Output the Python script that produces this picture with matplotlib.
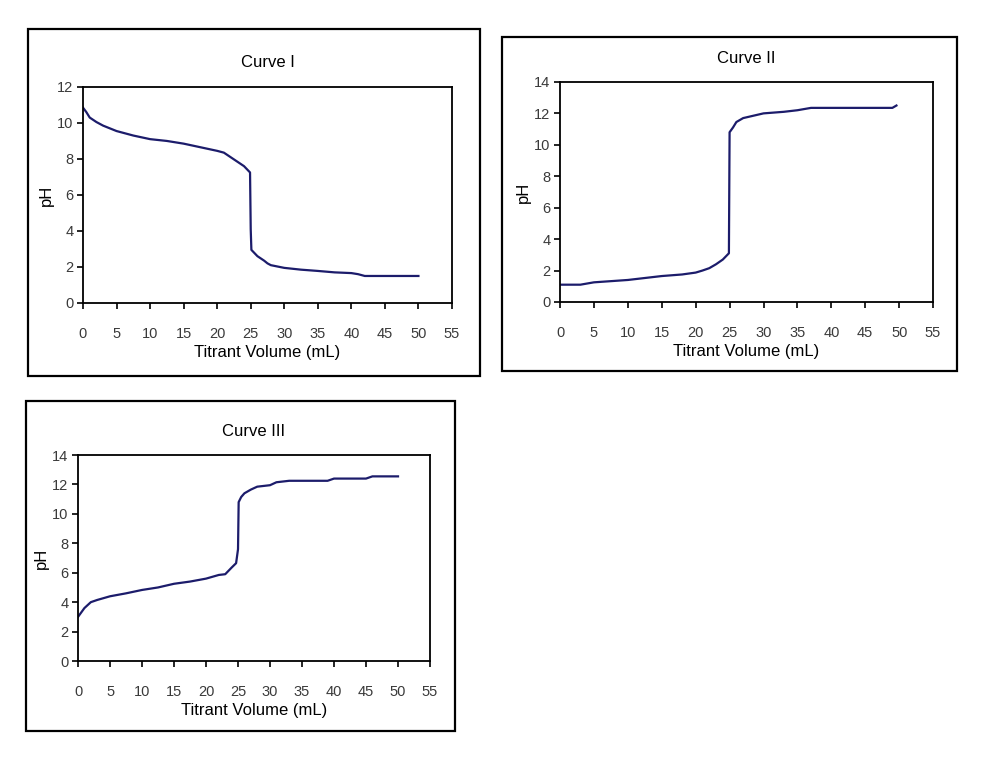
import matplotlib.pyplot as plt
from matplotlib.patches import Rectangle

plt.rcParams['font.family'] = ['Liberation Sans Narrow', 'Liberation Sans', 'DejaVu Sans']

# Curve I: pH falling through the equivalence point
x1 = [0, 0.5, 1, 2, 3, 5, 7.5, 10, 12.5, 15, 17.5, 20, 21, 22, 23, 24, 24.9,
      25, 25.1, 26, 27, 27.5, 28, 30, 32.5, 35, 37.5, 40, 41, 42, 45, 50]
y1 = [10.85, 10.6, 10.3, 10.05, 9.85, 9.55, 9.3, 9.1, 9.0, 8.85, 8.65, 8.45, 8.35,
      8.1, 7.85, 7.6, 7.25, 4.1, 2.95, 2.6, 2.35, 2.2, 2.1, 1.95, 1.85, 1.78, 1.7,
      1.66, 1.6, 1.5, 1.5, 1.5]

# Curve II: strong acid titrated with strong base
x2 = [0, 3, 5, 10, 15, 18, 20, 21, 22, 23, 24, 24.9, 25, 25.5, 26, 27, 29, 30,
      33, 35, 37, 45, 49, 49.6]
y2 = [1.1, 1.1, 1.25, 1.4, 1.65, 1.75, 1.87, 2.0, 2.15, 2.4, 2.7, 3.1, 10.8,
      11.1, 11.45, 11.7, 11.9, 12.0, 12.1, 12.2, 12.35, 12.35, 12.35, 12.5]

# Curve III: weak acid titrated with strong base
x3 = [0, 0.5, 1, 2, 3, 5, 7.5, 10, 12.5, 15, 17.5, 20, 22, 23, 24, 24.7, 25,
      25.1, 25.5, 26, 27, 28, 30, 31, 33, 39, 40, 45, 46, 50]
y3 = [3.0, 3.3, 3.6, 4.0, 4.15, 4.4, 4.6, 4.83, 5.0, 5.25, 5.4, 5.6, 5.85, 5.9,
      6.35, 6.65, 7.6, 10.8, 11.15, 11.4, 11.65, 11.85, 11.95, 12.15, 12.25,
      12.25, 12.4, 12.4, 12.55, 12.55]

titles = ["Curve I", "Curve II", "Curve III"]
ymaxes = [12, 14, 14]
xticks = list(range(0, 60, 5))

fig = plt.figure(figsize=(9.94, 7.68), dpi=100)

frames = [[0.0282, 0.5104, 0.4547, 0.4518],
          [0.5050, 0.5169, 0.4577, 0.4349],
          [0.0262, 0.0482, 0.4316, 0.4297]]
for f in frames:
    fig.patches.append(Rectangle((f[0], f[1]), f[2], f[3], transform=fig.transFigure,
                                 fill=False, edgecolor='black', linewidth=1.6))

axes_pos = [[0.0835, 0.6055, 0.3712, 0.2813],
            [0.5634, 0.6068, 0.3753, 0.2865],
            [0.0785, 0.1393, 0.3541, 0.2682]]

data = [(x1, y1), (x2, y2), (x3, y3)]
for pos, (xs, ys), title, ymax in zip(axes_pos, data, titles, ymaxes):
    ax = fig.add_axes(pos)
    ax.plot(xs, ys, color='#1c1c6b', linewidth=1.6)
    ax.set_xlim(0, 55)
    ax.set_ylim(0, ymax)
    ax.set_xticks(xticks)
    ax.set_yticks(range(0, ymax + 1, 2))
    ax.tick_params(direction='out', length=4, width=1.2, labelsize=10.5,
                   labelcolor='#3a3a3a', pad=13)
    ax.tick_params(axis='y', pad=3)
    for s in ax.spines.values():
        s.set_linewidth(1.3)
    ax.set_title(title, fontsize=12, pad=14)
    ax.set_xlabel("Titrant Volume (mL)", fontsize=12, labelpad=3)
    ax.set_ylabel("pH", fontsize=12, labelpad=2)

fig.savefig("out.png", dpi=100)
